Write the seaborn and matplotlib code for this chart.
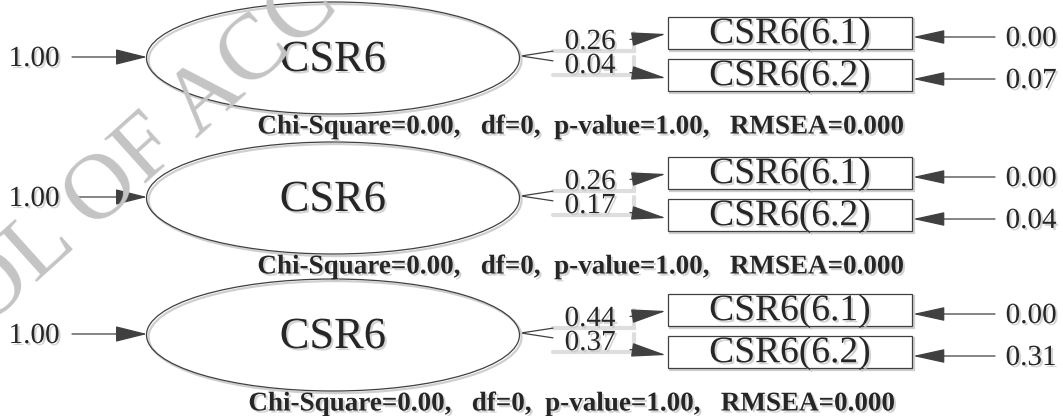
import matplotlib
matplotlib.use("Agg")
import matplotlib.pyplot as plt
import matplotlib.patheffects as pe
from matplotlib.patches import Ellipse, Rectangle
import seaborn as sns

# values (three one-factor models)
latent_names = ["CSR6", "CSR6", "CSR6"]
indicator_names = ["CSR6(6.1)", "CSR6(6.2)"]
latent_var = [1.00, 1.00, 1.00]
loading_1 = [0.26, 0.26, 0.44]
loading_2 = [0.04, 0.17, 0.37]
error_1 = [0.00, 0.00, 0.00]
error_2 = [0.07, 0.04, 0.31]
chi_square = [0.00, 0.00, 0.00]
dof = [0, 0, 0]
p_value = [1.00, 1.00, 1.00]
rmsea = [0.000, 0.000, 0.000]

sns.set_theme(style="white")
plt.rcParams["font.family"] = ["Liberation Serif", "DejaVu Serif"]

LINE = "#404040"
text_shadow = [pe.withSimplePatchShadow(offset=(1.5, -1.5), shadow_rgbFace="#c8c8c8", alpha=0.8)]
line_shadow = [pe.SimpleLineShadow(offset=(1.5, -1.5), shadow_color="#cfcfcf", alpha=1, linewidth=1.6),
               pe.Normal()]


def arrow(ax, start, end, head=1.1, width=0.22):
    ax.annotate("", xy=end, xytext=start, zorder=1,
                arrowprops=dict(arrowstyle="-|>,head_length=%s,head_width=%s" % (head, width),
                                color=LINE, lw=0.9, mutation_scale=20,
                                shrinkA=0, shrinkB=0))


def draw_panel(ax, i, y0, fit_x):
    # latent factor
    ell = Ellipse((333, 58 + y0), 373, 112, facecolor="none", edgecolor=LINE, lw=0.9, zorder=2)
    ell.set_path_effects(line_shadow)
    ax.add_patch(ell)
    ax.text(333, 60 + y0, latent_names[i], fontsize=32, ha="center", va="center",
            path_effects=text_shadow, zorder=3)

    # variance of the factor
    ax.text(34, 59 + y0, "%.2f" % latent_var[i], fontsize=21, ha="center", va="center",
            path_effects=text_shadow)
    arrow(ax, (72, 57 + y0), (147, 57 + y0), head=1.0, width=0.25)

    # indicators
    box_y = [33, 75]
    loads = [loading_1[i], loading_2[i]]
    errs = [error_1[i], error_2[i]]
    lab_y = [42, 66]
    lab_top = [33, 57]
    lab_bottom = [51, 75]
    start = (521, 56 + y0)
    for k in range(2):
        by = box_y[k] + y0
        rect = Rectangle((668, by - 16), 244, 32, facecolor="white", edgecolor=LINE, lw=0.9, zorder=2)
        rect.set_path_effects(line_shadow)
        ax.add_patch(rect)
        ax.text(790, by + 1, indicator_names[k], fontsize=27, ha="center", va="center",
                path_effects=text_shadow, zorder=3)

        # loading path, broken where its label sits
        end = (666, by + 1 + 2 * k)

        def along(x):
            return (x, start[1] + (end[1] - start[1]) * (x - start[0]) / (end[0] - start[0]))

        ax.plot([start[0], along(553)[0]], [start[1], along(553)[1]], color=LINE, lw=0.9, zorder=1)
        arrow(ax, along(630), end)
        # light shadow of the label field
        ax.plot([553, 634, 634], [lab_bottom[k] + y0, lab_bottom[k] + y0, lab_top[k] + y0],
                color="#dedede", lw=3, solid_joinstyle="miter", zorder=0)
        ax.text(590, lab_y[k] + y0, "%.2f" % loads[k], fontsize=21, ha="center", va="center",
                zorder=3, path_effects=text_shadow)

        # measurement error
        arrow(ax, (995, by + 4), (913, by + 4), head=1.0, width=0.22)
        ax.text(1031, by + 6, "%.2f" % errs[k], fontsize=21, ha="center", va="center",
                path_effects=text_shadow)

    fit = "Chi-Square=%.2f,   df=%d,  p-value=%.2f,   RMSEA=%.3f" % (
        chi_square[i], dof[i], p_value[i], rmsea[i])
    ax.text(fit_x, 127 + y0, fit, fontsize=19.5, fontweight="bold", ha="center", va="center",
            path_effects=text_shadow)


fig = plt.figure(figsize=(10.63, 4.16), dpi=100)
ax = fig.add_axes([0, 0, 1, 1])
ax.set_xlim(0, 1063)
ax.set_ylim(416, 0)
ax.axis("off")

for i, (y0, fx) in enumerate(zip([0, 140, 277], [581, 581, 572])):
    draw_panel(ax, i, y0, fx)

# watermark
ax.text(-31, 313, "OL OF ACCO", rotation=42, rotation_mode="anchor", fontsize=68,
        color="#c4c4c4", ha="left", va="center", zorder=10)

fig.savefig("out.png", dpi=100)
